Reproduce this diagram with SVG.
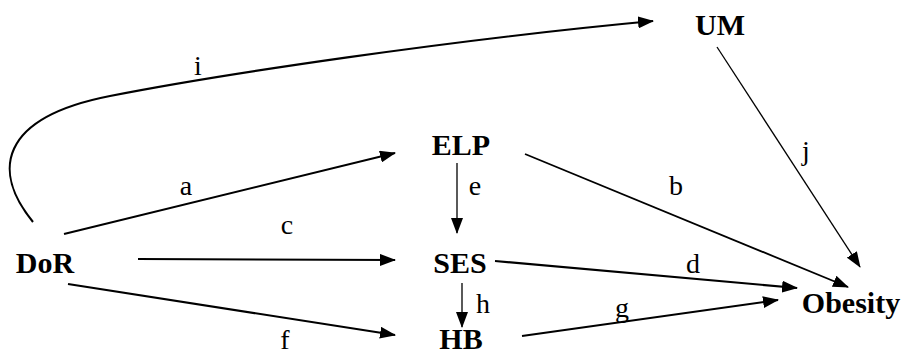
<svg xmlns="http://www.w3.org/2000/svg" width="905" height="356" viewBox="0 0 905 356">
<style>
.node{font-family:"Liberation Serif","Times New Roman",serif;font-weight:bold;font-size:30px;fill:#000;text-anchor:middle}
.lbl{font-family:"Liberation Serif","Times New Roman",serif;font-size:28px;fill:#000;text-anchor:middle}
.e{fill:none;stroke:#000;stroke-width:2.1;marker-end:url(#arr)}
.thin{stroke-width:1.3}
</style>
<defs>
<marker id="arr" viewBox="0 0 16 12" refX="15" refY="6" markerWidth="16" markerHeight="12" markerUnits="userSpaceOnUse" orient="auto">
<path d="M0,0 L16,6 L0,12 z" fill="#000"/>
</marker>
</defs>
<g id="connectors">
<path id="edge-i" class="e" d="M33,222 C-8,172 -2,118 110,96 S450,40 653,21"/>
<path id="edge-a" class="e" d="M64,234 L395,153"/>
<path id="edge-c" class="e" d="M138,259 L395,260"/>
<path id="edge-f" class="e" d="M68,284 L395,335"/>
<path id="edge-e" class="e thin" d="M457,163 L457,233"/>
<path id="edge-h" class="e thin" d="M462,283 L462,327"/>
<path id="edge-b" class="e" style="stroke-width:1.8" d="M525,154 L848,287"/>
<path id="edge-d" class="e" d="M495,261 L797,288"/>
<path id="edge-g" class="e" d="M522,336 L778,300"/>
<path id="edge-j" class="e thin" d="M717,47 L860,267"/>
<text class="lbl" x="198" y="75">i</text>
<text class="lbl" x="186" y="195">a</text>
<text class="lbl" x="287" y="234">c</text>
<text class="lbl" x="285" y="349">f</text>
<text class="lbl" x="475" y="195">e</text>
<text class="lbl" x="483" y="313">h</text>
<text class="lbl" x="676" y="195">b</text>
<text class="lbl" x="693" y="273">d</text>
<text class="lbl" x="622" y="317">g</text>
<text class="lbl" x="806" y="160">j</text>
</g>
<g id="node-UM"><text class="node" x="720" y="35">UM</text></g>
<g id="node-ELP"><text class="node" x="461" y="155">ELP</text></g>
<g id="node-DoR"><text class="node" x="45" y="273">DoR</text></g>
<g id="node-SES"><text class="node" x="460" y="273">SES</text></g>
<g id="node-HB"><text class="node" x="461" y="349">HB</text></g>
<g id="node-Obesity"><text class="node" x="851" y="313">Obesity</text></g>
</svg>
